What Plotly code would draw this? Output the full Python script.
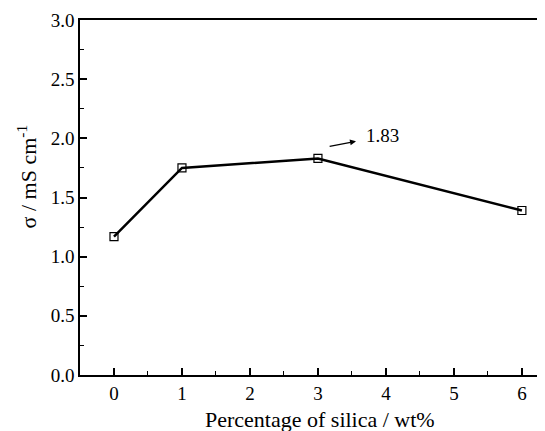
import plotly.graph_objects as go

silica = [0, 1, 3, 6]
sigma = [1.17, 1.75, 1.83, 1.39]
x_ticks = [0, 1, 2, 3, 4, 5, 6]
y_ticks = [0.0, 0.5, 1.0, 1.5, 2.0, 2.5, 3.0]
peak_label = "1.83"
x_title = "Percentage of silica / wt%"
y_title = "σ / mS cm<sup>-1</sup>"

FONT = "Liberation Serif, Times New Roman, serif"

fig = go.Figure()
fig.add_trace(go.Scatter(
    x=silica, y=sigma, mode="lines+markers",
    line=dict(color="black", width=2.5),
    marker=dict(symbol="square-open", size=8, color="black", line=dict(width=1.2)),
    showlegend=False,
))

fig.add_annotation(x=3.56, y=1.975, ax=3.15, ay=1.93, xref="x", yref="y", axref="x", ayref="y",
                   text="", showarrow=True, arrowhead=2, arrowsize=1, arrowwidth=1.2, arrowcolor="black")
fig.add_annotation(x=3.95, y=2.02, xref="x", yref="y", text=peak_label, showarrow=False,
                   font=dict(family=FONT, size=19, color="black"))

# axis titles as annotations for exact placement
fig.add_annotation(x=0.516, y=-0.125, xref="paper", yref="paper", text=x_title, showarrow=False,
                   font=dict(family=FONT, size=22, color="black"), xanchor="center", yanchor="middle")
fig.add_annotation(x=-0.115, y=0.558, xref="paper", yref="paper", text=y_title, showarrow=False,
                   textangle=-90, font=dict(family=FONT, size=22, color="black"),
                   xanchor="center", yanchor="middle")

fig.update_layout(
    width=537, height=423,
    margin=dict(l=72, r=0, t=12, b=56, autoexpand=False),
    paper_bgcolor="white", plot_bgcolor="white",
    font=dict(family=FONT, color="black"),
)
fig.update_xaxes(
    automargin=False,
    range=[-0.5, 6.34], tickvals=x_ticks, ticktext=[str(v) for v in x_ticks],
    showgrid=False, zeroline=False, showline=True, linecolor="black", linewidth=1.5, mirror=True,
    ticks="inside", ticklen=7, tickwidth=1.5, tickcolor="black",
    minor=dict(dtick=0.5, tick0=0, ticks="inside", ticklen=4, tickwidth=1.2, tickcolor="black"),
    tickfont=dict(family=FONT, size=19, color="black"),
)
fig.update_yaxes(
    automargin=False,
    range=[0, 3.0], tickvals=y_ticks, ticktext=[f"{v:.1f}" for v in y_ticks],
    showgrid=False, zeroline=False, showline=True, linecolor="black", linewidth=1.5,
    ticks="inside", ticklen=7, tickwidth=1.5, tickcolor="black",
    minor=dict(dtick=0.25, tick0=0, ticks="inside", ticklen=4, tickwidth=1.2, tickcolor="black"),
    tickfont=dict(family=FONT, size=19, color="black"),
)

fig.write_html("out.html")
